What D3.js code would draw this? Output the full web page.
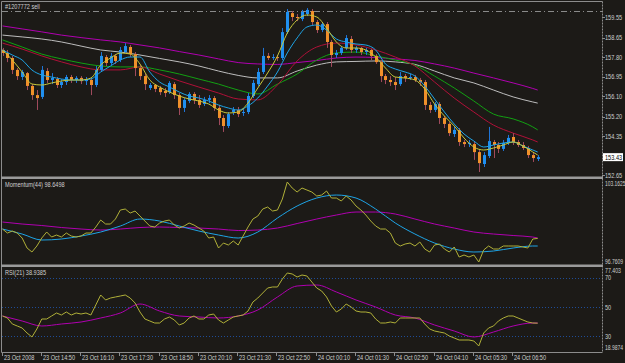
<!DOCTYPE html>
<meta charset="utf-8">
<style>
  body { margin: 0; background: #1c1a17; }
  svg text {
    font-family: "Liberation Sans", Arial, sans-serif;
    font-size: 7px;
    fill: #cfcfcf;
  }
</style>
<body>
<script src="https://d3js.org/d3.v7.min.js"></script>
<script>
// ---- data (10 minute bars from 23 Oct 2008 13:30) ----
var opens = [158.11,157.98,157.76,157.24,156.93,157.10,156.54,156.14,156.06,157.19,
  156.80,156.84,156.58,156.71,156.93,156.80,156.89,156.75,156.80,156.58,
  157.24,157.80,157.54,157.85,157.67,158.02,158.24,157.93,157.32,156.97,
  156.45,156.58,156.45,156.32,156.27,156.62,156.14,155.58,155.88,156.19,
  155.93,155.75,155.93,156.01,155.58,155.14,154.79,155.40,155.49,155.36,
  155.40,156.10,156.62,157.15,157.85,157.76,157.80,157.76,158.89,159.72,
  159.55,159.46,159.68,159.81,159.33,158.98,159.24,158.46,157.89,157.98,
  158.20,158.59,158.11,158.20,158.02,158.11,157.85,157.58,156.97,156.80,
  156.71,156.62,156.97,156.89,156.93,156.80,156.71,155.71,155.49,155.75,
  155.14,154.88,154.44,154.62,154.09,154.00,154.00,153.65,153.13,153.48,
  154.09,153.96,153.79,154.05,154.31,154.09,153.96,153.83,153.52,153.35];
var highs = [158.20,158.11,157.85,157.32,157.24,157.15,156.62,156.36,157.41,157.32,
  157.10,156.93,156.84,157.02,157.02,156.97,156.97,156.93,156.89,157.41,
  158.02,157.89,157.98,157.93,158.24,158.41,158.33,158.02,157.45,157.06,
  156.67,156.62,156.54,156.45,156.75,156.71,156.23,156.01,156.27,156.27,
  156.14,156.06,156.14,156.10,155.71,155.27,155.40,155.62,155.62,155.58,
  156.23,156.80,157.32,158.20,157.98,157.93,157.89,159.07,159.90,159.81,
  159.68,159.86,159.94,159.90,159.42,159.33,159.33,158.55,158.11,158.28,
  158.76,158.72,158.28,158.24,158.20,158.15,157.93,157.67,157.06,156.97,
  156.93,157.15,157.06,157.06,157.02,156.89,156.80,155.84,155.84,155.84,
  155.23,154.96,154.75,154.70,154.18,154.18,154.09,153.74,153.65,154.75,
  154.18,154.09,154.18,154.40,154.48,154.18,154.09,153.92,153.61,153.52];
var lows = [157.85,157.58,157.06,156.80,156.80,156.36,155.93,155.49,155.97,156.67,
  156.62,156.45,156.45,156.58,156.67,156.67,156.62,156.58,156.14,156.49,
  157.15,157.41,157.45,157.50,157.58,157.98,157.80,156.97,156.80,156.36,
  156.36,156.27,156.14,156.06,156.19,155.97,155.27,155.40,155.79,155.75,
  155.58,155.66,155.79,155.45,154.83,154.53,154.70,155.27,155.18,155.23,
  155.31,156.01,156.54,157.06,157.67,157.67,157.63,157.67,158.81,159.37,
  159.37,159.37,159.59,159.20,158.85,158.89,158.20,157.37,157.76,157.89,
  158.11,157.98,157.98,157.89,157.89,157.67,157.50,156.71,156.62,156.54,
  156.36,156.54,156.71,156.80,156.71,156.54,155.49,155.36,155.40,154.88,
  154.70,154.35,154.31,153.92,153.87,153.87,153.31,152.78,153.00,153.39,
  153.39,153.61,153.70,153.96,153.96,153.87,153.74,153.39,153.22,153.26];
var closes = [157.98,157.76,157.24,156.97,157.15,156.54,156.14,156.01,157.24,156.80,
  156.89,156.58,156.71,156.93,156.80,156.89,156.75,156.84,156.58,157.24,
  157.85,157.54,157.85,157.63,158.11,158.28,157.93,157.32,156.97,156.62,
  156.58,156.41,156.27,156.23,156.67,156.14,155.58,155.93,156.19,155.93,
  155.71,155.93,156.01,155.58,155.14,154.79,155.31,155.49,155.31,155.40,
  156.10,156.67,157.15,157.85,157.76,157.80,157.76,158.89,159.77,159.55,
  159.51,159.77,159.86,159.33,158.98,159.24,158.46,157.89,157.98,158.20,
  158.63,158.11,158.20,158.02,158.11,157.85,157.58,156.97,156.80,156.71,
  156.58,156.97,156.89,156.93,156.80,156.71,155.71,155.49,155.75,155.14,
  154.88,154.48,154.62,154.09,154.00,154.05,153.65,153.17,153.52,154.13,
  153.96,153.79,154.05,154.27,154.09,153.96,153.83,153.52,153.39,153.43];

// moving averages read at these bar indices
var slowIdx = [0,4,8,12,16,20,24,28,32,36,40,44,48,52,56,60,64,68,72,76,80,84,88,92,96,100,104,108,109];
var fastIdx = [0,2,4,6,8,10,12,14,16,18,20,22,24,26,28,30,32,34,36,38,40,42,44,46,48,50,52,54,
  56,58,60,62,64,66,68,70,72,74,76,78,80,82,84,86,88,90,92,94,96,98,100,102,104,106,108,109];

var maMagenta = [159.16,159.03,158.90,158.76,158.65,158.55,158.46,158.33,158.20,158.04,157.89,157.72,157.56,157.50,
  157.48,157.56,157.65,157.76,157.80,157.78,157.72,157.65,157.50,157.32,157.10,156.89,156.67,156.43,156.36];
var maSilver = [158.76,158.68,158.59,158.46,158.28,158.11,158.02,157.89,157.74,157.59,157.41,157.19,157.00,156.89,
  156.89,157.19,157.45,157.59,157.61,157.63,157.59,157.48,157.19,156.89,156.67,156.36,156.06,155.84,155.79];
var maGreen = [158.55,158.24,157.93,157.72,157.54,157.41,157.37,157.37,157.24,157.06,156.84,156.62,156.36,156.19,
  156.62,157.06,157.67,157.98,158.02,157.85,157.67,157.45,156.97,156.45,155.88,155.31,155.10,154.75,154.62];
var maRed = [158.41,158.15,157.85,157.59,157.37,157.24,157.24,157.37,157.06,156.76,156.49,156.23,155.97,155.93,
  156.58,157.63,158.24,158.41,158.33,158.11,157.80,157.41,156.71,156.01,155.40,154.83,154.48,154.18,154.09];
var maBlue = [158.109,157.890,157.672,157.235,157.017,156.929,156.842,156.798,156.798,156.842,157.148,157.410,
  157.672,157.803,157.803,157.148,156.711,156.493,156.274,156.100,156.012,155.881,155.707,155.576,155.488,
  155.663,156.012,156.536,157.148,157.978,158.633,159.113,159.200,158.982,158.589,158.458,158.371,158.327,
  158.109,157.497,157.279,157.148,156.973,156.536,155.969,155.401,154.877,154.440,154.134,153.872,153.960,
  154.047,154.091,153.916,153.742,153.654];
var maYellow = [158.109,157.672,157.148,156.624,156.580,156.668,156.755,156.798,156.798,156.886,157.454,157.759,
  157.978,157.934,157.497,156.798,156.493,156.274,156.100,155.969,155.881,155.750,155.488,155.357,155.401,
  155.794,156.449,157.104,157.847,158.851,159.419,159.637,159.550,159.069,158.458,158.196,158.196,158.109,
  157.803,157.322,156.929,156.886,156.798,156.405,155.750,155.226,154.790,154.266,153.872,153.742,153.829,
  153.960,154.091,153.916,153.654,153.523];

var momentum = [99.40,99.08,99.24,99.08,98.68,97.88,97.56,98.04,98.68,99.16,
  98.76,98.92,98.76,99.08,98.84,98.76,98.84,99.08,99.08,99.56,
  100.12,99.80,99.80,100.20,100.92,101.00,100.68,100.84,100.44,100.04,
  99.64,99.56,99.88,100.04,100.12,99.72,99.48,99.64,99.88,99.72,
  99.48,99.24,98.68,98.76,97.88,98.28,98.12,98.44,98.12,98.84,
  99.56,100.20,100.44,101.00,101.16,100.84,100.92,101.80,103.16,102.68,
  102.36,102.68,102.52,102.36,102.04,102.12,102.44,101.88,101.88,101.64,
  102.04,101.72,101.24,100.92,100.52,100.04,99.64,99.40,99.40,99.08,
  98.28,98.04,98.20,98.28,98.04,98.36,97.80,97.56,98.12,98.20,
  97.80,97.56,97.96,97.16,97.32,97.16,97.32,96.76,97.72,98.04,
  97.80,97.80,98.04,98.04,98.04,98.04,97.96,97.88,98.60,98.6498];
var momBlue = [99.40,99.00,98.52,98.60,98.84,99.16,99.64,100.20,100.04,99.64,99.24,98.92,98.68,99.16,
  100.28,101.24,101.88,102.12,101.88,101.00,99.88,99.00,98.28,97.80,97.56,97.64,97.88,98.04,98.04];
var momMagenta = [99.96,99.80,99.68,99.52,99.40,99.32,99.40,99.52,99.56,99.52,99.48,99.40,99.28,99.32,
  99.48,99.84,100.20,100.52,100.76,100.76,100.60,100.20,99.80,99.48,99.16,99.00,98.88,98.76,98.68];

var rsi = [43.85,42.48,38.38,37.01,35.64,32.22,29.49,34.96,41.79,41.79,
  43.85,45.90,44.53,46.58,44.53,45.90,45.21,45.90,44.53,51.37,
  58.21,54.79,56.15,56.84,57.52,58.21,56.15,52.74,46.58,41.79,
  40.43,39.06,39.06,41.79,43.16,41.11,37.69,39.06,42.48,43.85,
  41.79,41.79,44.53,45.21,41.11,39.06,41.11,43.16,43.85,44.53,
  47.26,53.42,56.15,59.57,62.99,63.68,63.68,69.15,73.25,72.57,
  70.51,71.88,71.20,67.10,62.99,60.94,56.84,50.68,46.58,48.63,
  52.05,50.00,47.26,46.58,46.58,45.90,41.79,39.06,39.06,39.74,
  39.06,42.48,42.48,42.48,42.48,42.48,38.38,34.96,33.59,32.90,
  32.22,30.17,28.80,27.43,27.43,27.43,26.75,23.33,32.22,35.64,
  37.01,40.43,42.48,43.85,43.85,42.48,41.11,39.74,39.06,38.9385];
var rsiMagenta = [43.85,40.43,37.01,38.38,39.74,42.48,45.90,52.05,47.26,43.85,43.16,42.48,43.85,47.95,
  56.84,64.36,65.04,60.26,54.79,50.00,44.53,42.48,37.69,33.59,29.49,32.90,37.01,39.06,39.06];
var rsiLevels = [70, 50, 30];

var priceTicks = [159.55, 158.65, 157.80, 156.95, 156.10, 155.20, 154.35, 152.65];
var lastPrice = 153.43;
var orderPrice = 159.83;
var momTicks = [103.1625, 96.7609];
var rsiTicks = [77.403, 18.9874];

var tickTimes = ["2008-10-23 13:30","2008-10-23 14:50","2008-10-23 16:10","2008-10-23 17:30",
  "2008-10-23 18:50","2008-10-23 20:10","2008-10-23 21:30","2008-10-23 22:50","2008-10-24 00:10",
  "2008-10-24 01:30","2008-10-24 02:50","2008-10-24 04:10","2008-10-24 05:30","2008-10-24 06:50"];
var tickLabels = ["23 Oct 2008","23 Oct 14:50","23 Oct 16:10","23 Oct 17:30","23 Oct 18:50",
  "23 Oct 20:10","23 Oct 21:30","23 Oct 22:50","24 Oct 00:10","24 Oct 01:30","24 Oct 02:50",
  "24 Oct 04:10","24 Oct 05:30","24 Oct 06:50"];

// ---- drawing ----
var W = 625, H = 363, R = 602;
var parse = d3.timeParse("%Y-%m-%d %H:%M");
var t0 = parse(tickTimes[0]);
var barTime = function(i) { return d3.timeMinute.offset(t0, i * 10); };

var x = d3.scaleTime()
    .domain([t0, barTime(110)])
    .range([2.5, 2.5 + 110 * 4.91]);
var yPrice = d3.scaleLinear().domain([152.65, 159.55]).range([175, 17]);
var yMom = d3.scaleLinear().domain([96.7609, 103.1625]).range([262, 182]);
var yRsi = d3.scaleLinear().domain([30, 70]).range([336.25, 277.75]);

var svg = d3.select("body").append("svg")
    .attr("width", W)
    .attr("height", H);

svg.append("rect").attr("width", W).attr("height", H).attr("fill", "#1c1a17");

// small narrow label, the terminal font is condensed
function label(parent, px, py, str, color, sx) {
  var t = parent.append("text")
      .attr("transform", "translate(" + px + "," + py + ") scale(" + (sx || 0.8) + ",1)")
      .text(str);
  if (color) t.style("fill", color);
  return t;
}

var defs = svg.append("defs");
defs.append("clipPath").attr("id", "cMain")
  .append("rect").attr("x", 2).attr("y", 2).attr("width", R - 2).attr("height", 174);
defs.append("clipPath").attr("id", "cMom")
  .append("rect").attr("x", 2).attr("y", 180).attr("width", R - 2).attr("height", 84);
defs.append("clipPath").attr("id", "cRsi")
  .append("rect").attr("x", 2).attr("y", 267).attr("width", R - 2).attr("height", 85);

// main pane
var main = svg.append("g").attr("clip-path", "url(#cMain)");

// order line
main.append("line")
    .attr("x1", 2).attr("x2", R)
    .attr("y1", Math.round(yPrice(orderPrice)) + 0.5).attr("y2", Math.round(yPrice(orderPrice)) + 0.5)
    .attr("stroke", "#8a8a8a")
    .attr("stroke-dasharray", "6,3,1,3");

function maLine(scale, idx) {
  return d3.line()
    .x(function(d, k) { return x(barTime(idx[k])); })
    .y(function(d) { return scale(d); })
    .curve(d3.curveMonotoneX);
}

var mainMAs = [
  [maMagenta, slowIdx, "#b000b0"],
  [maSilver, slowIdx, "#bdbdbd"],
  [maGreen, slowIdx, "#12a012"],
  [maRed, slowIdx, "#b01038"]
];
mainMAs.forEach(function(m) {
  main.append("path")
      .attr("d", maLine(yPrice, m[1])(m[0]))
      .attr("fill", "none")
      .attr("stroke", m[2])
      .attr("stroke-width", 1);
});

// candles
var bars = d3.range(closes.length);
var cg = main.append("g");
cg.selectAll("line.wick")
  .data(bars)
  .enter().append("line")
    .attr("class", "wick")
    .attr("x1", function(i) { return Math.round(x(barTime(i))) + 0.5; })
    .attr("x2", function(i) { return Math.round(x(barTime(i))) + 0.5; })
    .attr("y1", function(i) { return yPrice(highs[i]); })
    .attr("y2", function(i) { return yPrice(lows[i]); })
    .attr("stroke", function(i) { return closes[i] >= opens[i] ? "#1f74d6" : "#a04a5c"; });
cg.selectAll("rect.body")
  .data(bars)
  .enter().append("rect")
    .attr("class", "body")
    .attr("x", function(i) { return Math.round(x(barTime(i))) - 1; })
    .attr("width", 3)
    .attr("y", function(i) { return yPrice(Math.max(opens[i], closes[i])); })
    .attr("height", function(i) { return Math.max(1, Math.abs(yPrice(opens[i]) - yPrice(closes[i]))); })
    .attr("fill", function(i) { return closes[i] >= opens[i] ? "#2090f0" : "#f0902a"; });

[[maBlue, "#1ea4e6"], [maYellow, "#c8c83a"]].forEach(function(m) {
  main.append("path")
      .attr("d", maLine(yPrice, fastIdx)(m[0]))
      .attr("fill", "none")
      .attr("stroke", m[1])
      .attr("stroke-width", 1);
});

// momentum pane
var mom = svg.append("g").attr("clip-path", "url(#cMom)");
mom.append("path")
    .attr("d", maLine(yMom, slowIdx)(momMagenta))
    .attr("fill", "none").attr("stroke", "#b000b0");
mom.append("path")
    .attr("d", maLine(yMom, slowIdx)(momBlue))
    .attr("fill", "none").attr("stroke", "#1ea4e6");
mom.append("path")
    .attr("d", d3.line()
        .x(function(d, i) { return x(barTime(i)); })
        .y(function(d) { return yMom(d); })(momentum))
    .attr("fill", "none").attr("stroke", "#b0b038");

// rsi pane
var rs = svg.append("g").attr("clip-path", "url(#cRsi)");
rs.selectAll("line.lvl")
  .data(rsiLevels)
  .enter().append("line")
    .attr("x1", 2).attr("x2", R)
    .attr("y1", function(d) { return Math.round(yRsi(d)) + 0.5; })
    .attr("y2", function(d) { return Math.round(yRsi(d)) + 0.5; })
    .attr("stroke", "#1f4c96")
    .attr("stroke-dasharray", "1,2");
rs.append("path")
    .attr("d", maLine(yRsi, slowIdx)(rsiMagenta))
    .attr("fill", "none").attr("stroke", "#b000b0");
rs.append("path")
    .attr("d", d3.line()
        .x(function(d, i) { return x(barTime(i)); })
        .y(function(d) { return yRsi(d); })(rsi))
    .attr("fill", "none").attr("stroke", "#b0b038");

// frames
var frame = svg.append("g").attr("stroke", "#8c8c8c").attr("fill", "none");
frame.append("line").attr("x1", 1.5).attr("x2", R + 0.5).attr("y1", 1.5).attr("y2", 1.5);
frame.append("line").attr("x1", 1.5).attr("x2", 1.5).attr("y1", 1.5).attr("y2", 352.5);
frame.append("line").attr("x1", R + 0.5).attr("x2", R + 0.5).attr("y1", 1.5).attr("y2", 352.5)
    .attr("stroke-dasharray", "2,1");
frame.append("line").attr("x1", 1.5).attr("x2", R + 0.5).attr("y1", 352.5).attr("y2", 352.5);
svg.append("rect").attr("x", 1).attr("y", 176.5).attr("width", R).attr("height", 2.5).attr("fill", "#9a9a9a");
svg.append("rect").attr("x", 1).attr("y", 264.5).attr("width", R).attr("height", 2.5).attr("fill", "#9a9a9a");

// price axis
var LX = R + 3;
var pa = svg.append("g");
pa.selectAll("line").data(priceTicks).enter().append("line")
    .attr("x1", R).attr("x2", R + 3)
    .attr("y1", function(d) { return Math.round(yPrice(d)) + 0.5; })
    .attr("y2", function(d) { return Math.round(yPrice(d)) + 0.5; })
    .attr("stroke", "#8c8c8c");
priceTicks.forEach(function(d) {
  label(pa, LX, yPrice(d) + 2.5, d.toFixed(2));
});

pa.append("rect")
    .attr("x", R + 1).attr("y", yPrice(lastPrice) - 4)
    .attr("width", 20).attr("height", 8)
    .attr("fill", "#ffffff");
label(pa, R + 3, yPrice(lastPrice) + 2.5, lastPrice.toFixed(2), "#000");

// indicator axes
label(svg, LX, yMom(momTicks[0]) + 3.5, momTicks[0], null, 0.7);
label(svg, LX, yMom(momTicks[1]) + 1.5, momTicks[1], null, 0.72);
label(svg, LX, yRsi(rsiTicks[0]) + 6, rsiTicks[0], null, 0.75);
label(svg, LX, yRsi(rsiTicks[1]) - 2, rsiTicks[1], null, 0.72);
rsiLevels.forEach(function(d) {
  label(svg, LX, yRsi(d) + 2.5, d);
});

// time axis
var ta = svg.append("g");
tickTimes.forEach(function(t, k) {
  var px = Math.round(x(parse(t))) - 0.5;
  ta.append("line")
      .attr("x1", px).attr("x2", px).attr("y1", 352).attr("y2", 356)
      .attr("stroke", "#8c8c8c");
  label(ta, px + 1.5, 360, tickLabels[k]);
});

// titles
label(svg, 5, 8.5, "#1207772 sell");
label(svg, 5, 187, "Momentum(44) " + momentum[momentum.length - 1].toFixed(4));
label(svg, 5, 275, "RSI(21) " + rsi[rsi.length - 1].toFixed(4));
</script>
</body>
